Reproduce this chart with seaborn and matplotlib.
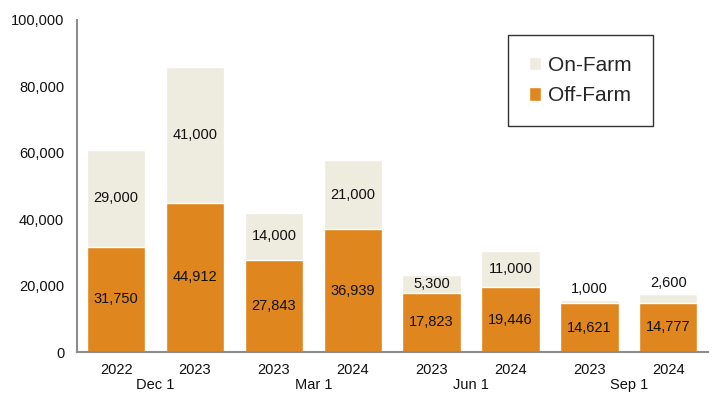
import matplotlib
matplotlib.use("Agg")
import matplotlib.pyplot as plt
import seaborn as sns
import pandas as pd
import numpy as np

groups = ["Dec 1", "Dec 1", "Mar 1", "Mar 1", "Jun 1", "Jun 1", "Sep 1", "Sep 1"]
years = ["2022", "2023", "2023", "2024", "2023", "2024", "2023", "2024"]
off_farm = [31750, 44912, 27843, 36939, 17823, 19446, 14621, 14777]
on_farm = [29000, 41000, 14000, 21000, 5300, 11000, 1000, 2600]
group_names = ["Dec 1", "Mar 1", "Jun 1", "Sep 1"]

sns.set_theme(style="white")
plt.rcParams["font.family"] = ["Liberation Sans", "DejaVu Sans"]

ORANGE = "#E0861E"
BEIGE = "#EEEBDF"
GREY = "#8C8C8C"

df = pd.DataFrame({
    "pos": [f"{g}\n{y}" for g, y in zip(groups, years)],
    "off": off_farm,
    "on": on_farm,
})
df["total"] = df["off"] + df["on"]

fig = plt.figure(figsize=(7.17, 4.0), dpi=100)
ax = fig.add_axes([0.107, 0.12, 0.88, 0.83])

sns.barplot(data=df, x="pos", y="total", color=BEIGE, saturation=1, width=0.74,
            ax=ax, label="On-Farm")
sns.barplot(data=df, x="pos", y="off", color=ORANGE, saturation=1, width=0.74,
            ax=ax, label="Off-Farm")

n = len(df)
ax.set_xlim(-0.5, n - 0.5)
ax.set_ylim(0, 100000)
ax.set_yticks(np.arange(0, 100001, 20000))
ax.set_yticklabels([f"{v:,}" for v in range(0, 100001, 20000)], fontsize=10.5, color="#111111")
ax.set_xlabel("")
ax.set_ylabel("")

ax.set_xticks(range(n))
ax.set_xticklabels(years, fontsize=10.5, color="#111111")
ax.tick_params(axis="x", which="major", length=0, pad=8)
ax.set_xticks(np.arange(-0.5, n, 1), minor=True)
ax.tick_params(axis="x", which="minor", length=5, color=GREY, width=1.2, direction="out")
ax.tick_params(axis="y", length=5, color=GREY, width=1.2, direction="out", pad=4)

for s in ["top", "right"]:
    ax.spines[s].set_visible(False)
for s in ["left", "bottom"]:
    ax.spines[s].set_color(GREY)
    ax.spines[s].set_linewidth(1.5)

# group labels
for i, g in enumerate(group_names):
    ax.text(2 * i + 0.5, -0.078, g, transform=ax.get_xaxis_transform(),
            ha="center", va="top", fontsize=10.5, color="#111111")

# value labels
for i, (o, f) in enumerate(zip(off_farm, on_farm)):
    ax.text(i, o / 2, f"{o:,}", ha="center", va="center", fontsize=10.5, color="#111111")
    if f < 3000:
        ax.annotate(f"{f:,}", (i, o + f), xytext=(0, 3), textcoords="offset points",
                    ha="center", va="bottom", fontsize=10.5, color="#111111")
    else:
        ax.text(i, o + f / 2, f"{f:,}", ha="center", va="center", fontsize=10.5, color="#111111")

handles, labels = ax.get_legend_handles_labels()
leg = ax.legend(handles, labels, loc="upper right", bbox_to_anchor=(0.913, 0.955),
                fontsize=15, frameon=True, fancybox=False, handlelength=0.6,
                handleheight=0.6, handletextpad=0.35, borderpad=1.0, labelspacing=0.55,
                borderaxespad=0)
leg.get_frame().set_edgecolor("black")
leg.get_frame().set_linewidth(1.0)

fig.savefig("out.png", dpi=100)
